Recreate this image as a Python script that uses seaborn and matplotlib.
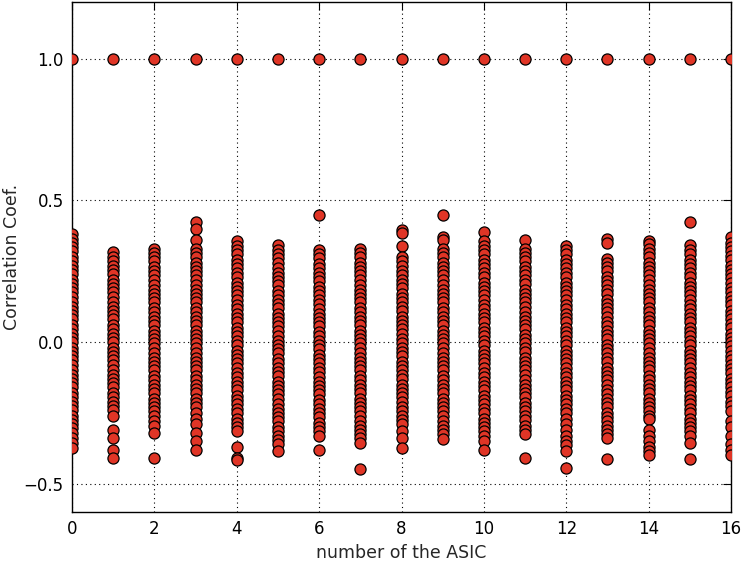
import numpy as np
import pandas as pd
import matplotlib
matplotlib.use("Agg")
import matplotlib.pyplot as plt
import seaborn as sns

# Correlation coefficients per ASIC (self-correlation at 1.0 included)
asic_0 = [1.0, 0.38, 0.365, 0.35, 0.335, 0.32, 0.30, 0.285, 0.27, 0.255, 0.24, 0.22, 0.205, 0.19, 0.175, 0.16, 0.14, 0.125, 0.11, 0.095, 0.08, 0.06, 0.045, 0.03, 0.015, 0.0, -0.02, -0.035, -0.05, -0.065, -0.08, -0.10, -0.115, -0.13, -0.145, -0.16, -0.18, -0.195, -0.21, -0.225, -0.24, -0.26, -0.275, -0.29, -0.305, -0.32, -0.34, -0.355, -0.375]
asic_1 = [1.0, 0.316, 0.30, 0.285, 0.27, 0.255, 0.24, 0.22, 0.205, 0.19, 0.175, 0.16, 0.14, 0.125, 0.11, 0.095, 0.08, 0.06, 0.045, 0.03, 0.015, 0.0, -0.02, -0.035, -0.05, -0.065, -0.08, -0.10, -0.115, -0.13, -0.145, -0.16, -0.18, -0.195, -0.21, -0.225, -0.24, -0.262, -0.31, -0.34, -0.38, -0.41]
asic_2 = [1.0, 0.33, 0.315, 0.30, 0.285, 0.265, 0.25, 0.235, 0.22, 0.20, 0.185, 0.17, 0.155, 0.14, 0.12, 0.105, 0.09, 0.075, 0.06, 0.04, 0.025, 0.01, -0.005, -0.02, -0.04, -0.055, -0.07, -0.085, -0.10, -0.12, -0.135, -0.15, -0.165, -0.18, -0.20, -0.215, -0.23, -0.245, -0.26, -0.28, -0.295, -0.32, -0.41]
asic_3 = [1.0, 0.425, 0.40, 0.36, 0.33, 0.315, 0.30, 0.28, 0.265, 0.25, 0.235, 0.22, 0.20, 0.185, 0.17, 0.155, 0.14, 0.12, 0.105, 0.09, 0.075, 0.06, 0.04, 0.025, 0.01, -0.005, -0.02, -0.04, -0.055, -0.07, -0.085, -0.10, -0.12, -0.135, -0.15, -0.165, -0.18, -0.20, -0.215, -0.23, -0.25, -0.27, -0.29, -0.32, -0.35, -0.38]
asic_4 = [1.0, 0.355, 0.34, 0.325, 0.31, 0.29, 0.275, 0.26, 0.245, 0.23, 0.21, 0.195, 0.18, 0.165, 0.15, 0.13, 0.115, 0.10, 0.085, 0.07, 0.05, 0.035, 0.02, 0.005, -0.01, -0.03, -0.045, -0.06, -0.075, -0.09, -0.11, -0.125, -0.14, -0.155, -0.17, -0.19, -0.205, -0.22, -0.235, -0.25, -0.27, -0.285, -0.30, -0.315, -0.37, -0.41, -0.415]
asic_5 = [1.0, 0.342, 0.325, 0.31, 0.295, 0.28, 0.26, 0.245, 0.23, 0.215, 0.20, 0.18, 0.165, 0.15, 0.135, 0.12, 0.10, 0.085, 0.07, 0.055, 0.04, 0.02, 0.005, -0.01, -0.025, -0.04, -0.06, -0.075, -0.09, -0.105, -0.12, -0.14, -0.155, -0.17, -0.185, -0.20, -0.22, -0.235, -0.25, -0.265, -0.28, -0.30, -0.315, -0.33, -0.345, -0.36, -0.385]
asic_6 = [1.0, 0.45, 0.325, 0.31, 0.295, 0.275, 0.26, 0.245, 0.23, 0.215, 0.195, 0.18, 0.165, 0.15, 0.135, 0.115, 0.10, 0.085, 0.07, 0.055, 0.035, 0.02, 0.005, -0.01, -0.025, -0.045, -0.06, -0.075, -0.09, -0.105, -0.125, -0.14, -0.155, -0.17, -0.185, -0.205, -0.22, -0.235, -0.25, -0.265, -0.285, -0.30, -0.315, -0.332, -0.38]
asic_7 = [1.0, 0.33, 0.315, 0.30, 0.28, 0.265, 0.25, 0.235, 0.22, 0.20, 0.185, 0.17, 0.155, 0.14, 0.12, 0.105, 0.09, 0.075, 0.06, 0.04, 0.025, 0.01, -0.005, -0.02, -0.04, -0.055, -0.07, -0.085, -0.10, -0.12, -0.135, -0.15, -0.165, -0.18, -0.20, -0.215, -0.23, -0.245, -0.26, -0.28, -0.295, -0.31, -0.325, -0.34, -0.356, -0.448]
asic_8 = [1.0, 0.395, 0.385, 0.34, 0.30, 0.285, 0.27, 0.25, 0.235, 0.22, 0.205, 0.19, 0.17, 0.155, 0.14, 0.125, 0.11, 0.09, 0.075, 0.06, 0.045, 0.03, 0.01, -0.005, -0.02, -0.035, -0.05, -0.07, -0.085, -0.10, -0.115, -0.13, -0.15, -0.165, -0.18, -0.195, -0.21, -0.23, -0.245, -0.26, -0.275, -0.29, -0.315, -0.34, -0.374]
asic_9 = [1.0, 0.45, 0.37, 0.36, 0.33, 0.315, 0.30, 0.28, 0.265, 0.25, 0.235, 0.22, 0.20, 0.185, 0.17, 0.155, 0.14, 0.12, 0.105, 0.09, 0.075, 0.06, 0.04, 0.025, 0.01, -0.005, -0.02, -0.04, -0.055, -0.07, -0.085, -0.10, -0.12, -0.135, -0.15, -0.165, -0.18, -0.20, -0.215, -0.23, -0.245, -0.26, -0.28, -0.295, -0.31, -0.325, -0.343]
asic_10 = [1.0, 0.39, 0.357, 0.34, 0.325, 0.31, 0.29, 0.275, 0.26, 0.245, 0.23, 0.21, 0.195, 0.18, 0.165, 0.15, 0.13, 0.115, 0.10, 0.085, 0.07, 0.05, 0.035, 0.02, 0.005, -0.01, -0.03, -0.045, -0.06, -0.075, -0.09, -0.11, -0.125, -0.14, -0.155, -0.17, -0.19, -0.205, -0.22, -0.235, -0.25, -0.27, -0.285, -0.30, -0.315, -0.33, -0.35, -0.38]
asic_11 = [1.0, 0.36, 0.33, 0.315, 0.30, 0.285, 0.265, 0.25, 0.235, 0.22, 0.205, 0.185, 0.17, 0.155, 0.14, 0.125, 0.105, 0.09, 0.075, 0.06, 0.045, 0.025, 0.01, -0.005, -0.02, -0.035, -0.055, -0.07, -0.085, -0.10, -0.115, -0.135, -0.15, -0.165, -0.18, -0.195, -0.215, -0.23, -0.245, -0.26, -0.275, -0.295, -0.31, -0.326, -0.41]
asic_12 = [1.0, 0.34, 0.325, 0.31, 0.29, 0.275, 0.26, 0.245, 0.23, 0.21, 0.195, 0.18, 0.165, 0.15, 0.13, 0.115, 0.10, 0.085, 0.07, 0.05, 0.035, 0.02, 0.005, -0.01, -0.03, -0.045, -0.06, -0.075, -0.09, -0.11, -0.125, -0.14, -0.155, -0.17, -0.19, -0.205, -0.22, -0.235, -0.25, -0.27, -0.29, -0.31, -0.33, -0.35, -0.365, -0.385, -0.445]
asic_13 = [1.0, 0.363, 0.35, 0.293, 0.28, 0.265, 0.25, 0.23, 0.215, 0.20, 0.185, 0.17, 0.15, 0.135, 0.12, 0.105, 0.09, 0.07, 0.055, 0.04, 0.025, 0.01, -0.01, -0.025, -0.04, -0.055, -0.07, -0.09, -0.105, -0.12, -0.135, -0.15, -0.17, -0.185, -0.20, -0.215, -0.23, -0.25, -0.265, -0.28, -0.295, -0.31, -0.325, -0.338, -0.413]
asic_14 = [1.0, 0.355, 0.345, 0.33, 0.315, 0.30, 0.28, 0.265, 0.25, 0.235, 0.22, 0.20, 0.185, 0.17, 0.155, 0.14, 0.12, 0.105, 0.09, 0.075, 0.06, 0.04, 0.025, 0.01, -0.005, -0.02, -0.04, -0.055, -0.07, -0.085, -0.10, -0.12, -0.135, -0.15, -0.165, -0.18, -0.20, -0.215, -0.23, -0.245, -0.26, -0.273, -0.31, -0.33, -0.35, -0.37, -0.385, -0.40]
asic_15 = [1.0, 0.425, 0.342, 0.325, 0.31, 0.29, 0.275, 0.26, 0.245, 0.23, 0.21, 0.195, 0.18, 0.165, 0.15, 0.13, 0.115, 0.10, 0.085, 0.07, 0.05, 0.035, 0.02, 0.005, -0.01, -0.03, -0.045, -0.06, -0.075, -0.09, -0.11, -0.125, -0.14, -0.155, -0.17, -0.19, -0.205, -0.22, -0.235, -0.25, -0.27, -0.285, -0.30, -0.315, -0.33, -0.356, -0.413]
asic_16 = [1.0, 0.37, 0.35, 0.335, 0.32, 0.305, 0.29, 0.27, 0.255, 0.24, 0.225, 0.21, 0.19, 0.175, 0.16, 0.145, 0.13, 0.11, 0.095, 0.08, 0.065, 0.05, 0.03, 0.015, 0.0, -0.015, -0.03, -0.05, -0.065, -0.08, -0.095, -0.11, -0.13, -0.145, -0.16, -0.175, -0.19, -0.21, -0.225, -0.244, -0.28, -0.30, -0.33, -0.36, -0.38, -0.40]

coef_by_asic = [asic_0, asic_1, asic_2, asic_3, asic_4, asic_5, asic_6, asic_7, asic_8,
                asic_9, asic_10, asic_11, asic_12, asic_13, asic_14, asic_15, asic_16]

x_ticks = [0, 2, 4, 6, 8, 10, 12, 14, 16]
y_ticks = [-0.5, 0.0, 0.5, 1.0]
y_tick_labels = ["\u22120.5", "0.0", "0.5", "1.0"]

rows = []
for asic, values in enumerate(coef_by_asic):
    for v in values:
        rows.append({"asic": asic, "coef": v})
df = pd.DataFrame(rows)

sns.set_style("white")
plt.rcParams["font.family"] = ["DejaVu Sans"]

fig = plt.figure(figsize=(7.42, 5.62), dpi=100)
ax = fig.add_axes([72 / 742, 50 / 562, (731 - 72) / 742, (512 - 2) / 562])

sns.scatterplot(data=df, x="asic", y="coef", ax=ax, color="#e03526",
                edgecolor="black", linewidth=0.9, s=64, zorder=3)

ax.set_xlim(0, 16)
ax.set_ylim(-0.6, 1.2)
ax.set_xticks(x_ticks)
ax.set_xticklabels([str(t) for t in x_ticks])
ax.set_yticks(y_ticks)
ax.set_yticklabels(y_tick_labels)

ax.grid(True, linestyle=(0, (1, 3)), color="black", linewidth=0.8)
ax.set_axisbelow(True)
for side in ax.spines.values():
    side.set_visible(True)
    side.set_color("black")
    side.set_linewidth(1.0)

ax.tick_params(direction="in", length=6, width=0.8, top=True, right=True,
               labelsize=12, colors="black", pad=6)
ax.set_xlabel("number of the ASIC", fontsize=12.5, labelpad=4)
ax.set_ylabel("Correlation Coef.", fontsize=12.5)
ax.yaxis.set_label_coords(-0.078, 0.5)

fig.savefig("out.png", dpi=100)
